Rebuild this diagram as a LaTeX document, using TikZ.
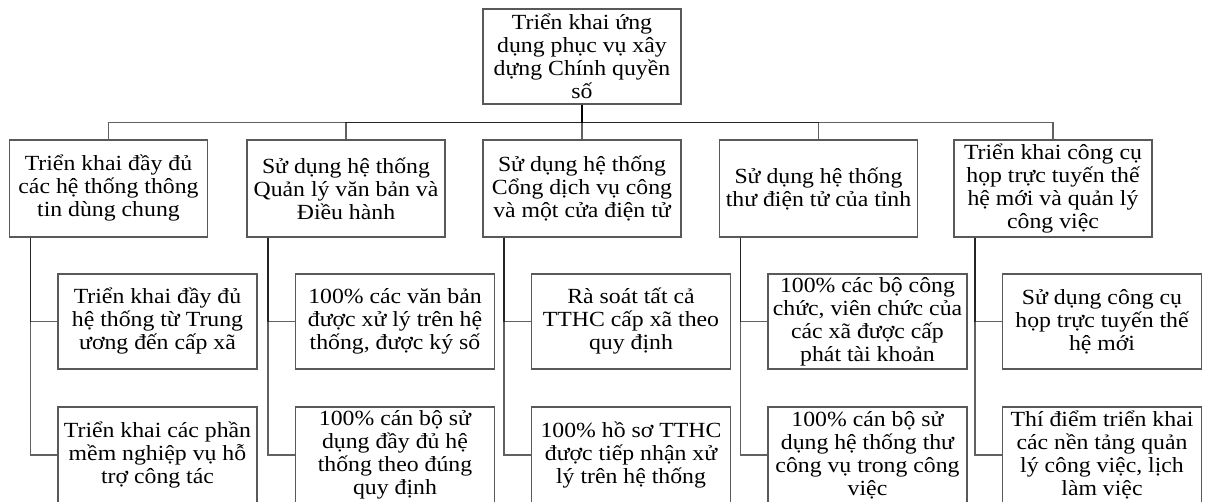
\documentclass[tikz,border=0pt]{standalone}
\usepackage{fontspec}
\setmainfont[FakeStretch=1.1]{Liberation Serif}
\begin{document}
\begin{tikzpicture}[x=1pt,y=-1pt,
  box/.style={draw=black!65, line width=1.3pt, fill=white, align=center,
    minimum width=198pt, minimum height=96pt, inner sep=0pt,
    font=\fontsize{21.6}{23}\selectfont},
  conn/.style={draw=black, line width=1.5pt, draw opacity=0.62}]
\useasboundingbox (0,0) rectangle (1205,502);
\clip (0,0) rectangle (1205,502);
\fill[white] (0,0) rectangle (1205,502);

\coordinate (bus) at (582,122.5);

% root
\node[box, minimum height=95pt] (root) at (582,56.5) {Triển khai ứng\\dụng phục vụ xây\\dựng Chính quyền\\số};

% level 1
\node[box, minimum height=97pt] (a1) at (108.5,188.5) {Triển khai đầy đủ\\các hệ thống thông\\tin dùng chung};
\node[box, minimum height=97pt] (a2) at (346,188.5) {Sử dụng hệ thống\\Quản lý văn bản và\\Điều hành};
\node[box, minimum height=97pt] (a3) at (582,188.5) {Sử dụng hệ thống\\Cổng dịch vụ công\\và một cửa điện tử};
\node[box, minimum height=97pt] (a4) at (818.5,188.5) {Sử dụng hệ thống\\thư điện tử của tỉnh};
\node[box, minimum height=97pt] (a5) at (1053,188.5) {Triển khai công cụ\\họp trực tuyến thế\\hệ mới và quản lý\\công việc};

% level 2, row 1
\node[box, minimum width=199pt, minimum height=95pt] (b1) at (157.5,321.5) {Triển khai đầy đủ\\hệ thống từ Trung\\ương đến cấp xã};
\node[box, minimum width=199pt, minimum height=95pt] (b2) at (395,321.5) {100\% các văn bản\\được xử lý trên hệ\\thống, được ký số};
\node[box, minimum width=199pt, minimum height=95pt] (b3) at (631,321.5) {Rà soát tất cả\\TTHC cấp xã theo\\quy định};
\node[box, minimum width=199pt, minimum height=95pt] (b4) at (867.5,321.5) {100\% các bộ công\\chức, viên chức của\\các xã được cấp\\phát tài khoản};
\node[box, minimum width=199pt, minimum height=95pt] (b5) at (1102,321.5) {Sử dụng công cụ\\họp trực tuyến thế\\hệ mới};

% level 2, row 2
\node[box, minimum width=199pt, minimum height=96pt] (c1) at (157.5,455) {Triển khai các phần\\mềm nghiệp vụ hỗ\\trợ công tác};
\node[box, minimum width=199pt, minimum height=96pt] (c2) at (395,455) {100\% cán bộ sử\\dụng đầy đủ hệ\\thống theo đúng\\quy định};
\node[box, minimum width=199pt, minimum height=96pt] (c3) at (631,455) {100\% hồ sơ TTHC\\được tiếp nhận xử\\lý trên hệ thống};
\node[box, minimum width=199pt, minimum height=96pt] (c4) at (867.5,455) {100\% cán bộ sử\\dụng hệ thống thư\\công vụ trong công\\việc};
\node[box, minimum width=199pt, minimum height=96pt] (c5) at (1102,455) {Thí điểm triển khai\\các nền tảng quản\\lý công việc, lịch\\làm việc};

% root to level 1
\foreach \n in {a1,a2,a3,a4,a5}{
  \draw[conn] (root.south) -- (bus) -| (\n.north);
}
% level 1 to level 2
\foreach \p/\q/\r in {a1/b1/c1,a2/b2/c2,a3/b3/c3,a4/b4/c4,a5/b5/c5}{
  \draw[conn] ([xshift=21.5pt]\p.south west) |- (\q.west);
  \draw[conn] ([xshift=21.5pt]\p.south west) |- (\r.west);
}
\end{tikzpicture}
\end{document}
